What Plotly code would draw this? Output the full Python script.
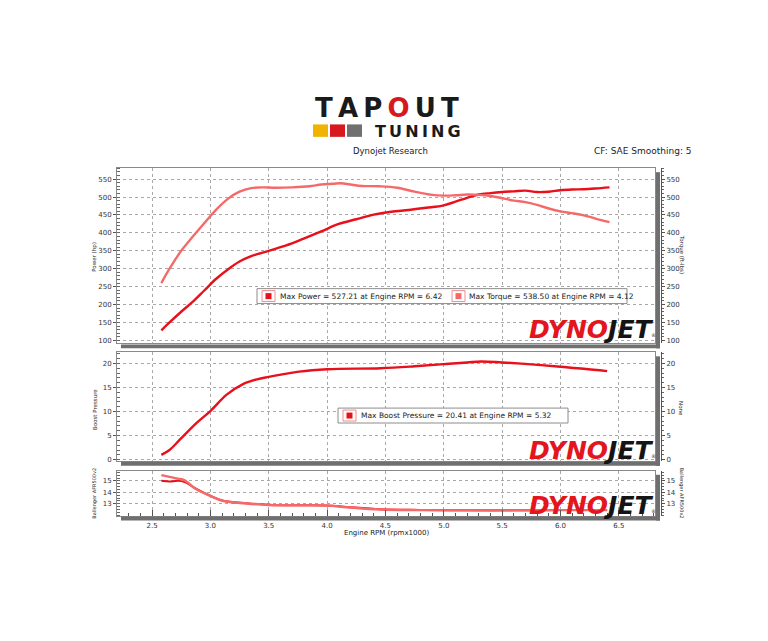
import plotly.graph_objects as go

W, H = 768, 641


def px(x):
    return x / W


def py(y):
    return 1 - y / H


# ---------------- data ----------------
rpm_power = [2.58, 2.65, 2.75, 2.85, 2.95, 3.05, 3.15, 3.25, 3.35, 3.5, 3.65, 3.8, 3.95, 4.1,
             4.25, 4.4, 4.55, 4.7, 4.85, 5.0, 5.1, 5.2, 5.3, 5.4, 5.5, 5.6, 5.7, 5.8, 5.9,
             6.0, 6.1, 6.2, 6.3, 6.42]
power_hp = [128, 150, 180, 208, 240, 272, 298, 320, 335, 350, 365, 384, 404, 425,
            438, 451, 459, 464, 470, 477, 487, 498, 507, 511, 514, 516, 518, 514, 515,
            519, 521, 522, 524, 527]

rpm_torque = [2.58, 2.65, 2.75, 2.85, 2.95, 3.05, 3.15, 3.25, 3.35, 3.45, 3.55, 3.7, 3.85,
              3.95, 4.05, 4.12, 4.2, 4.3, 4.45, 4.6, 4.75, 4.9, 5.0, 5.1, 5.2, 5.3, 5.4,
              5.5, 5.6, 5.7, 5.8, 5.9, 6.0, 6.1, 6.2, 6.3, 6.42]
torque_ftlb = [260, 300, 350, 390, 428, 465, 495, 515, 525, 527, 526, 527, 530,
               535, 537, 538.5, 535, 531, 530, 526, 515, 506, 504, 505, 507, 506, 503,
               497, 490, 486, 478, 468, 460, 455, 449, 440, 430]

rpm_boost = [2.58, 2.65, 2.74, 2.88, 3.0, 3.14, 3.28, 3.4, 3.5, 3.76, 4.0, 4.46, 4.75,
             5.0, 5.2, 5.32, 5.5, 5.75, 6.0, 6.2, 6.4]
boost_psi = [1.0, 2.0, 4.2, 7.6, 10.1, 13.5, 15.7, 16.7, 17.2, 18.3, 18.8, 19.0, 19.4,
             19.85, 20.2, 20.41, 20.2, 19.8, 19.3, 18.9, 18.4]

rpm_afr1 = [2.58, 2.65, 2.72, 2.78, 2.88, 3.0, 3.11, 3.31, 3.5, 3.76, 4.0, 4.17, 4.46,
            4.8, 5.2, 5.6, 6.0, 6.4]
afr1 = [15.0, 14.95, 15.0, 14.9, 14.3, 13.7, 13.27, 13.05, 12.92, 12.87, 12.85, 12.72,
        12.52, 12.46, 12.43, 12.43, 12.45, 12.46]

rpm_afr2 = [2.58, 2.65, 2.72, 2.78, 2.88, 3.0, 3.11, 3.31, 3.5, 3.76, 4.0, 4.17, 4.46,
            4.8, 5.2, 5.6, 6.0, 6.4]
afr2 = [15.5, 15.35, 15.2, 15.05, 14.26, 13.68, 13.24, 13.03, 12.9, 12.86, 12.84, 12.7,
        12.5, 12.45, 12.42, 12.42, 12.45, 12.45]

x_tick_vals = [2.5, 3.0, 3.5, 4.0, 4.5, 5.0, 5.5, 6.0, 6.5]
x_tick_text = ["2.5", "3.0", "3.5", "4.0", "4.5", "5.0", "5.5", "6.0", "6.5"]
power_ticks = [100, 150, 200, 250, 300, 350, 400, 450, 500, 550]
boost_ticks = [0, 5, 10, 15, 20]
afr_ticks = [13, 14, 15]

legend_power = "Max Power = 527.21 at Engine RPM = 6.42"
legend_torque = "Max Torque = 538.50 at Engine RPM = 4.12"
legend_boost = "Max Boost Pressure = 20.41 at Engine RPM = 5.32"

# ---------------- styles ----------------
C_POWER = "#e8101a"
C_TORQUE = "#f46a6a"
FONT = "DejaVu Sans"
GRID = "#a8a8a8"
LINE = "#8a8a8a"
SHADOW = "#6f6f6f"

L, R = 117, 655
panels = {  # top, bottom in pixels
    1: (169, 345),
    2: (354, 463),
    3: (473, 518),
}
RIGHT_AX = 661

fig = go.Figure()

fig.add_trace(go.Scatter(x=rpm_torque, y=torque_ftlb, xaxis="x", yaxis="y2", mode="lines",
                         line=dict(color=C_TORQUE, width=2.4, shape="spline"), name="Torque"))
fig.add_trace(go.Scatter(x=rpm_power, y=power_hp, xaxis="x", yaxis="y", mode="lines",
                         line=dict(color=C_POWER, width=2.4, shape="spline"), name="Power"))
fig.add_trace(go.Scatter(x=rpm_boost, y=boost_psi, xaxis="x2", yaxis="y3", mode="lines",
                         line=dict(color=C_POWER, width=2.4, shape="spline"), name="Boost"))
fig.add_trace(go.Scatter(x=rpm_boost, y=boost_psi, xaxis="x2", yaxis="y4", mode="lines",
                         line=dict(color=C_POWER, width=0), opacity=0, hoverinfo="skip",
                         name="None"))
fig.add_trace(go.Scatter(x=rpm_afr2, y=afr2, xaxis="x3", yaxis="y6", mode="lines",
                         line=dict(color=C_TORQUE, width=2.4, shape="spline"), name="AFR 2"))
fig.add_trace(go.Scatter(x=rpm_afr1, y=afr1, xaxis="x3", yaxis="y5", mode="lines",
                         line=dict(color=C_POWER, width=2.0, shape="spline"), name="AFR 1"))

xrange = [2.2, 6.81]
tickfont = dict(family=FONT, size=7, color="#333")


def xaxis(anchor, labels):
    d = dict(domain=[px(L), px(R)], anchor=anchor, range=xrange, tickvals=x_tick_vals,
             ticktext=x_tick_text, showgrid=True, gridcolor=GRID, griddash="dot", gridwidth=1,
             showline=True, linecolor=LINE, linewidth=1, mirror=True, zeroline=False,
             showticklabels=labels, tickfont=tickfont, fixedrange=True)
    if labels:
        d.update(ticks="inside", ticklen=6, tickcolor="#555", ticklabelstandoff=3,
                 minor=dict(ticks="inside", ticklen=3, dtick=0.1, tickcolor="#555", showgrid=False))
    else:
        d.update(ticks="")
    return d


def yleft(anchor, dom, rng, ticks, minor_dt):
    return dict(domain=dom, anchor=anchor, range=rng, tickvals=ticks, showgrid=True,
                gridcolor=GRID, griddash="dot", gridwidth=1, showline=True, linecolor=LINE,
                linewidth=1, mirror=True, zeroline=False, ticks="outside", ticklen=3,
                tickcolor="#555", tickfont=tickfont,
                minor=dict(ticks="inside", ticklen=3, dtick=minor_dt, tickcolor="#666",
                           showgrid=False), fixedrange=True)


def yright(over, rng, ticks, minor_dt):
    return dict(overlaying=over, side="right", anchor="free", position=px(RIGHT_AX),
                range=rng, tickvals=ticks, showgrid=False, showline=True, linecolor="#555",
                linewidth=1, zeroline=False, ticks="outside", ticklen=3, tickcolor="#555",
                tickfont=tickfont,
                minor=dict(ticks="outside", ticklen=2, dtick=minor_dt, tickcolor="#666"),
                fixedrange=True)


def dom(n):
    t, b = panels[n]
    return [py(b), py(t)]


r1 = [91.7, 580.5]
r2 = [-0.25, 22.3]
r3 = [11.97, 15.88]

fig.update_layout(
    width=W, height=H, autosize=False,
    margin=dict(l=0, r=0, t=0, b=0, pad=0),
    paper_bgcolor="white", plot_bgcolor="white",
    showlegend=False,
    font=dict(family=FONT, size=7, color="#333"),
    xaxis=xaxis("y", False),
    xaxis2=xaxis("y3", False),
    xaxis3=xaxis("y5", True),
    yaxis=yleft("x", dom(1), r1, power_ticks, 10),
    yaxis2=yright("y", r1, power_ticks, 10),
    yaxis3=yleft("x2", dom(2), r2, boost_ticks, 1),
    yaxis4=yright("y3", r2, boost_ticks, 1),
    yaxis5=yleft("x3", dom(3), r3, afr_ticks, 0.25),
    yaxis6=yright("y5", r3, afr_ticks, 0.25),
)

shapes = []
# panel shadows
for n, (t, b) in panels.items():
    shapes.append(dict(type="rect", xref="paper", yref="paper", x0=px(L + 4), x1=px(R + 5),
                       y0=py(b + 5), y1=py(b + 1), fillcolor=SHADOW, line=dict(width=0)))
    shapes.append(dict(type="rect", xref="paper", yref="paper", x0=px(R + 1), x1=px(R + 5),
                       y0=py(b + 5), y1=py(t + 4), fillcolor=SHADOW, line=dict(width=0)))


def legend_box(x0, x1, y0, y1):
    shapes.append(dict(type="rect", xref="paper", yref="paper", x0=px(x0), x1=px(x1),
                       y0=py(y1), y1=py(y0), fillcolor="white", line=dict(color="#8c8c8c", width=1)))


def legend_marker(x0, y0, color):
    shapes.append(dict(type="rect", xref="paper", yref="paper", x0=px(x0), x1=px(x0 + 13),
                       y0=py(y0 + 11), y1=py(y0), fillcolor="white",
                       line=dict(color="#f28a8a", width=1)))
    shapes.append(dict(type="rect", xref="paper", yref="paper", x0=px(x0 + 3.5), x1=px(x0 + 9.5),
                       y0=py(y0 + 8.5), y1=py(y0 + 2.5), fillcolor=color, line=dict(width=0)))


legend_box(257, 627, 290, 305)
legend_marker(262, 292, C_POWER)
legend_marker(452, 292, C_TORQUE)
legend_box(338, 568, 410, 425)
legend_marker(343, 412, C_POWER)

# logo bars
for x0, col in [(313, "#f0b400"), (330, "#d7191f"), (347, "#707070")]:
    shapes.append(dict(type="rect", xref="paper", yref="paper", x0=px(x0), x1=px(x0 + 15),
                       y0=py(137.5), y1=py(125), fillcolor=col, line=dict(width=0)))

fig.update_layout(shapes=shapes)

ann = []


def text(x, y, s, size=7, xanchor="left", yanchor="middle", color="#222", angle=0,
         family=FONT):
    ann.append(dict(xref="paper", yref="paper", x=px(x), y=py(y), text=s, showarrow=False,
                    xanchor=xanchor, yanchor=yanchor, textangle=angle,
                    font=dict(family=family, size=size, color=color), borderpad=0))


text(279, 297.5, legend_power, size=7.5)
text(468, 297.5, legend_torque, size=7.5)
text(360, 417.5, legend_boost, size=7.5)

# header logo
TS = "\u2009"
tap = TS.join(["T", "A", "P", "<span style='color:#d7191f'>O</span>", "U", "T"])
text(386.5, 108.5, "<b>" + tap + "</b>", size=26, xanchor="center", color="#1a1a1a")
text(462, 132.5, "<b>" + TS.join(list("TUNING")) + "</b>", size=16, xanchor="right",
     color="#1a1a1a")
text(390, 152, "Dynojet Research", size=8.5, xanchor="center")
text(693, 152, "CF: SAE Smoothing: 5", size=9, xanchor="right")

# axis titles
text(95, 258, "Power (hp)", size=5.5, xanchor="center", angle=-90)
text(681, 255, "Torque (ft-lbs)", size=5.5, xanchor="center", angle=90)
text(95, 412, "Boost Pressure", size=5.5, xanchor="center", angle=-90)
text(681, 410, "None", size=5.5, xanchor="center", angle=90)
text(95, 496, "Ballenger AFR500v2", size=5, xanchor="center", angle=-90)
text(681, 495, "Ballenger AFR500v2", size=5, xanchor="center", angle=90)
text(386, 536, "Engine RPM (rpmx1000)", size=7, xanchor="center")

# Dynojet watermarks
dj = "<b><i><span style='color:#e3151d'>DYNO</span><span style='color:#141414'>JET</span></i></b>"
for bottom in (346.5, 468, 523):
    text(654, bottom, dj, size=25, xanchor="right", yanchor="bottom")
    text(657, bottom - 6, "®", size=5, xanchor="right", yanchor="bottom", color="#333")

fig.update_layout(annotations=ann)

fig.write_html("out.html", post_script="document.body.style.margin='0';",
               config={"displayModeBar": False})
